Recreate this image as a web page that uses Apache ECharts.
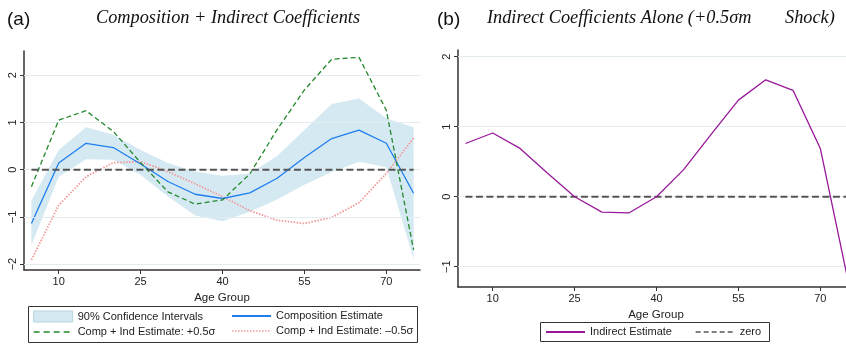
<!DOCTYPE html>
<html>
<head>
<meta charset="utf-8">
<script src="https://cdn.jsdelivr.net/npm/echarts@6/dist/echarts.min.js"></script>
<style>
html,body{margin:0;padding:0;background:#fff;}
#main{width:846px;height:344px;}
</style>
</head>
<body>
<div id="main"></div>
<script>
// age groups and estimates
var ages = [5, 10, 15, 20, 25, 30, 35, 40, 45, 50, 55, 60, 65, 70, 75];
var compEst = [-1.14, 0.14, 0.56, 0.47, 0.12, -0.25, -0.52, -0.61, -0.49, -0.18, 0.26, 0.66, 0.84, 0.56, -0.50];
var ciUpper = [-0.65, 0.42, 0.90, 0.74, 0.42, 0.14, -0.04, -0.13, -0.08, 0.29, 0.84, 1.39, 1.51, 1.09, 0.90];
var ciLower = [-1.60, -0.15, 0.22, 0.21, -0.11, -0.57, -0.97, -1.09, -0.89, -0.63, -0.32, -0.05, 0.17, 0.05, -1.89];
var compPlus = [-0.36, 1.05, 1.25, 0.81, 0.15, -0.47, -0.73, -0.64, -0.09, 0.85, 1.69, 2.34, 2.38, 1.26, -1.70];
var compMinus = [-1.91, -0.75, -0.15, 0.15, 0.17, -0.04, -0.30, -0.57, -0.87, -1.07, -1.14, -1.01, -0.70, -0.08, 0.67];
var indirectEst = [0.76, 0.91, 0.69, 0.34, 0.00, -0.22, -0.23, 0.00, 0.39, 0.89, 1.38, 1.67, 1.52, 0.69, -1.17];
var zeroLine = [0, 0, 0, 0, 0, 0, 0, 0, 0, 0, 0, 0, 0, 0, 0];
var xTicks = [10, 25, 40, 55, 70];
var yTicksA = [-2, -1, 0, 1, 2];
var yTicksB = [-1, 0, 1, 2];

var SANS = 'Liberation Sans';
var SERIF = 'Liberation Serif';
var NAME_CI = '90% Confidence Intervals';
var NAME_COMP = 'Composition Estimate';
var NAME_PLUS = 'Comp + Ind Estimate: +0.5\u03c3';
var NAME_MINUS = 'Comp + Ind Estimate: \u20130.5\u03c3';

function pairs(ys) {
    var out = [];
    for (var i = 0; i < ages.length; i++) {
        out.push([ages[i], ys[i]]);
    }
    return out;
}

function minusSign(v) {
    return String(v).replace('-', '\u2212');
}

function makeX(idx, gap) {
    return {
        type: 'value', gridIndex: idx, min: 3.64, max: 76.17,
        axisLine: {show: true, onZero: false, lineStyle: {color: '#333', width: 1.5}},
        axisTick: {show: true, length: 4, customValues: xTicks, lineStyle: {color: '#333', width: 1}},
        axisLabel: {customValues: xTicks, fontSize: 11, color: '#222', margin: 6, fontFamily: SANS},
        splitLine: {show: false},
        name: 'Age Group', nameLocation: 'middle', nameGap: gap,
        nameTextStyle: {fontSize: 11.5, color: '#222', fontFamily: SANS}
    };
}

function makeY(idx, min, max, ticks) {
    return {
        type: 'value', gridIndex: idx, min: min, max: max,
        axisLine: {show: true, onZero: false, lineStyle: {color: '#333', width: 1.5}},
        axisTick: {show: true, length: 4, customValues: ticks, lineStyle: {color: '#333', width: 1}},
        axisLabel: {customValues: ticks, rotate: 90, fontSize: 11, color: '#222', margin: 6,
            fontFamily: SANS, formatter: minusSign},
        splitLine: {show: false}
    };
}

function gridLines(idx, ticks) {
    return {
        type: 'line', name: 'grid' + idx, xAxisIndex: idx, yAxisIndex: idx,
        data: pairs(zeroLine), symbol: 'none', silent: true, z: 1,
        lineStyle: {opacity: 0},
        markLine: {
            silent: true, symbol: 'none', label: {show: false}, animation: false,
            lineStyle: {color: '#e2ecf1', width: 1, type: 'solid'},
            data: ticks.map(function (v) { return {yAxis: v}; })
        }
    };
}

function line(name, idx, ys, color, width, type, z) {
    return {
        type: 'line', name: name, xAxisIndex: idx, yAxisIndex: idx,
        data: pairs(ys), symbol: 'none', showSymbol: false, z: z,
        lineStyle: {color: color, width: width, type: type},
        itemStyle: {color: color}
    };
}

function legendCol(items, left, top) {
    return {
        data: items, orient: 'vertical', left: left, top: top, padding: 0,
        itemGap: 4, itemWidth: 39, itemHeight: 11, selectedMode: false,
        textStyle: {fontSize: 11, fontFamily: SANS, color: '#222'}
    };
}

// legend entry for a line series: keep the stroke, hide the marker
function lineItem(name, lineStyle) {
    var item = {name: name, itemStyle: {opacity: 0}};
    if (lineStyle) {
        item.lineStyle = lineStyle;
    }
    return item;
}

var chart = echarts.init(document.getElementById('main'));

var titleFont = {fontFamily: SERIF, fontStyle: 'italic', fontSize: 18.3, fontWeight: 'normal', color: '#111'};
var tagFont = {fontFamily: SANS, fontSize: 19, fontWeight: 'normal', color: '#111'};

var option = {
    animation: false,
    backgroundColor: '#fff',
    title: [
        {text: '(a)', left: 7, top: 10, padding: 0, textStyle: tagFont},
        {text: 'Composition + Indirect Coefficients', left: 96, top: 9, padding: 0, textStyle: titleFont},
        {text: '(b)', left: 437, top: 10, padding: 0, textStyle: tagFont},
        {text: 'Indirect Coefficients Alone (+0.5\u03c3m', left: 487, top: 9, padding: 0, textStyle: titleFont},
        {text: 'Shock)', left: 785, top: 9, padding: 0, textStyle: titleFont}
    ],
    graphic: [
        {type: 'rect', silent: true, shape: {x: 28.5, y: 306.5, width: 389, height: 36},
            style: {fill: null, stroke: '#333', lineWidth: 1}},
        {type: 'rect', silent: true, shape: {x: 540.5, y: 322.5, width: 229, height: 19},
            style: {fill: null, stroke: '#333', lineWidth: 1}}
    ],
    legend: [
        legendCol([
            {name: NAME_CI, icon: 'rect',
                itemStyle: {color: '#d5e9f2', borderColor: '#b6d5e3', borderWidth: 1}},
            lineItem(NAME_PLUS, {type: [6, 4], width: 1.3})
        ], 33, 310.5),
        legendCol([
            lineItem(NAME_COMP),
            lineItem(NAME_MINUS, {type: [1.5, 1.5], width: 1.6})
        ], 231, 310.5),
        legendCol([
            lineItem('Indirect Estimate')
        ], 545, 326.5),
        legendCol([
            lineItem('zero', {type: [5, 3], width: 1.3})
        ], 695, 326.5)
    ],
    grid: [
        {left: 24, width: 396, top: 51, bottom: 74, outerBoundsMode: 'none'},
        {left: 458, width: 396, top: 50, bottom: 57, outerBoundsMode: 'none'}
    ],
    xAxis: [makeX(0, 17), makeX(1, 10)],
    yAxis: [makeY(0, -2.125, 2.515, yTicksA), makeY(1, -1.29, 2.096, yTicksB)],
    series: [
        gridLines(0, yTicksA),
        gridLines(1, yTicksB),
        {
            type: 'custom', name: NAME_CI, xAxisIndex: 0, yAxisIndex: 0,
            data: pairs(ciUpper), silent: true, z: 2,
            itemStyle: {color: '#d5e9f2'},
            renderItem: function (params, api) {
                if (params.dataIndex !== 0) {
                    return null;
                }
                var pts = [];
                for (var i = 0; i < ages.length; i++) {
                    pts.push(api.coord([ages[i], ciUpper[i]]));
                }
                for (var j = ages.length - 1; j >= 0; j--) {
                    pts.push(api.coord([ages[j], ciLower[j]]));
                }
                return {type: 'polygon', shape: {points: pts}, style: {fill: '#d5e9f2', stroke: null}};
            }
        },
        line(NAME_MINUS, 0, compMinus, '#f29a9a', 1.8, [1.5, 1.5], 3),
        line(NAME_COMP, 0, compEst, '#1f7ef0', 1.3, 'solid', 4),
        line(NAME_PLUS, 0, compPlus, '#22882a', 1.3, [5, 3], 5),
        line('zeroA', 0, zeroLine, '#555', 2, [7, 3.5], 6),
        line('zero', 1, zeroLine, '#555', 2, [7, 3.5], 6),
        line('Indirect Estimate', 1, indirectEst, '#98189a', 1.3, 'solid', 7)
    ]
};

chart.setOption(option);
</script>
</body>
</html>
